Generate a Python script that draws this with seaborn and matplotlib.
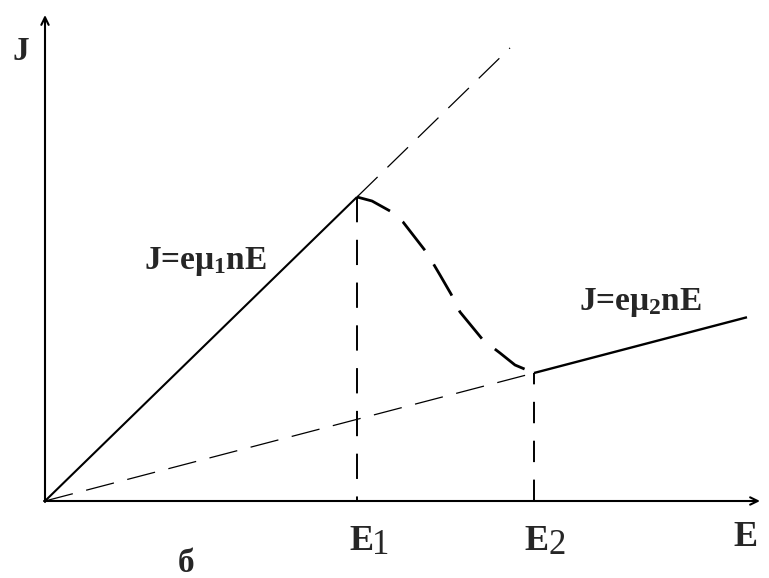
import matplotlib
matplotlib.use("Agg")
import matplotlib.pyplot as plt
import pandas as pd
import seaborn as sns

# Characteristic points of the J(E) curve (arbitrary units)
E1 = 3.12        # threshold field
J_peak = 3.04    # current density at the threshold
E2 = 4.89        # field where the high-field branch starts
J_valley = 1.28  # current density at E2
E_max = 7.02     # end of the high-field branch
E_ext = 4.65     # end of the dashed continuation of the low-field branch
E_axis = 7.15    # length of the field axis
J_axis = 4.86    # length of the current axis

mu1 = J_peak / E1      # low-field mobility (slope)
mu2 = J_valley / E2    # high-field mobility (slope)

# falling (negative differential conductivity) part between E1 and E2
ndr_E = [3.12, 3.27, 3.45, 3.58, 3.82, 3.95, 4.06, 4.15, 4.38, 4.55, 4.70, 4.89]
ndr_J = [3.04, 3.00, 2.90, 2.79, 2.48, 2.26, 2.07, 1.89, 1.61, 1.48, 1.36, 1.28]

sns.set_theme(style="white")
plt.rcParams["font.family"] = ["Liberation Serif", "DejaVu Serif"]
plt.rcParams["mathtext.fontset"] = "custom"
plt.rcParams["mathtext.rm"] = "Liberation Serif:bold"
plt.rcParams["mathtext.it"] = "Liberation Serif:bold"
plt.rcParams["mathtext.bf"] = "Liberation Serif:bold"

fig = plt.figure(figsize=(7.69, 5.78), dpi=100)
ax = fig.add_axes([0, 0, 1, 1])
ax.set_xlim(-0.45, 7.24)
ax.set_ylim(-0.77, 5.01)
ax.axis("off")


def seg(xs, ys, **kw):
    df = pd.DataFrame({"E": xs, "J": ys})
    sns.lineplot(data=df, x="E", y="J", ax=ax, sort=False, estimator=None,
                 color="black", legend=False, **kw)


thin_dash = (0, (23, 11))

# low-field branch J = e*mu1*n*E and its dashed continuation
seg([0, E1], [0, mu1 * E1], linewidth=1.5, solid_capstyle="butt")
seg([E1, E_ext], [mu1 * E1, mu1 * E_ext], linewidth=0.9, linestyle=thin_dash)

# high-field slope from the origin and the high-field branch
seg([0, E2], [0, mu2 * E2], linewidth=0.9, linestyle=thin_dash)
seg([E2, E_max], [mu2 * E2, mu2 * E_max], linewidth=1.7, solid_capstyle="butt")

# transition region
seg(ndr_E, ndr_J, linewidth=2.0, linestyle=(0, (13, 6)))

# projections onto the field axis
seg([E1, E1], [J_peak, 0], linewidth=1.4, linestyle=(0, (13, 9)))
seg([E2, E2], [0, J_valley], linewidth=1.4, linestyle=(0, (11, 9)))

# axes with arrows
arrow = dict(arrowstyle="->,head_length=0.45,head_width=0.22", lw=1.5,
             color="black", shrinkA=0, shrinkB=0)
ax.annotate("", xy=(E_axis, 0), xytext=(-0.01, 0), arrowprops=arrow)
ax.annotate("", xy=(0, J_axis), xytext=(0, -0.01), arrowprops=arrow)

# labels
ax.text(-0.24, 4.49, "J", fontsize=24, fontweight="bold", ha="center", va="center")
ax.text(7.01, -0.37, "E", fontsize=26, fontweight="bold", ha="center", va="center")
ax.text(3.165, -0.40, "E", fontsize=26, fontweight="bold", ha="center", va="center")
ax.text(3.36, -0.45, "1", fontsize=25, ha="center", va="center")
ax.text(4.915, -0.40, "E", fontsize=26, fontweight="bold", ha="center", va="center")
ax.text(5.12, -0.44, "2", fontsize=25, ha="center", va="center")
ax.text(1.41, -0.63, "б", fontsize=24, fontweight="bold", ha="center", va="center")

ax.text(1.60, 2.39, r"J=e$\mu_{1}$nE", fontsize=24, fontweight="bold",
        ha="center", va="center")
ax.text(5.95, 1.98, r"J=e$\mu_{2}$nE", fontsize=24, fontweight="bold",
        ha="center", va="center")

fig.savefig("out.png", dpi=100, facecolor="white")
